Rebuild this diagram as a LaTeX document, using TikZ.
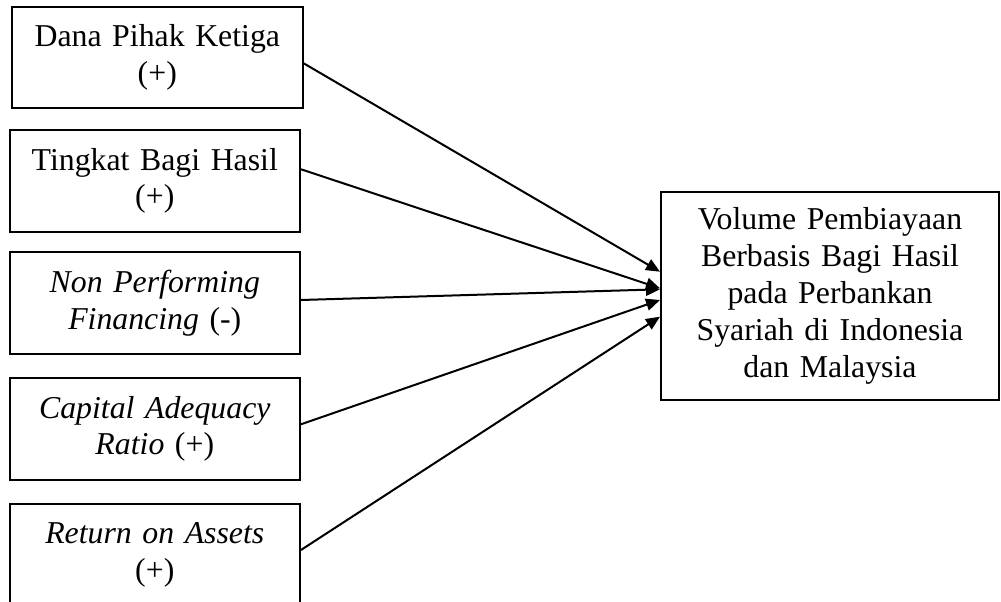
\documentclass[tikz,border=0pt]{standalone}
\usepackage{fontspec}
\setmainfont{Liberation Serif}
\usetikzlibrary{arrows.meta}
\begin{document}
\begin{tikzpicture}[x=1pt,y=-1pt,
  varbox/.style={draw,line width=2pt,inner sep=0pt,align=center,
    font=\fontsize{31.8}{36.8}\selectfont},
  conn/.style={line width=2pt,-{Triangle[length=14pt,width=12pt]}}]
\useasboundingbox (0,0) rectangle (1001,602);
\clip (0,0) rectangle (1001,602);
\node[varbox,minimum width=290.7pt,minimum height=101.3pt,text width=285pt] (b1) at (157.3,57.3) {Dana Pihak Ketiga\\(+)};
\node[varbox,minimum width=290.5pt,minimum height=101.7pt,text width=285pt] (b2) at (154.8,180.9) {Tingkat Bagi Hasil\\(+)};
\node[varbox,minimum width=290.3pt,minimum height=102pt,text width=285pt] (b3) at (154.8,303.3) {\textit{Non Performing}\\\textit{Financing} (-)};
\node[varbox,minimum width=290.3pt,minimum height=102.3pt,text width=285pt] (b4) at (154.8,428.8) {\textit{Capital Adequacy}\\\textit{Ratio} (+)};
\node[varbox,minimum width=290.3pt,minimum height=101.7pt,text width=285pt] (b5) at (154.8,555.2) {\textit{Return on Assets}\\(+)};
\node[varbox,minimum width=338pt,minimum height=208.3pt,text width=330pt] (y) at (830,295.8) {Volume Pembiayaan\\Berbasis Bagi Hasil\\pada Perbankan\\Syariah di Indonesia\\dan Malaysia};
\draw[conn] ([yshift=-6pt]b1.east) -- ([yshift=24.1pt]y.west);
\draw[conn] ([yshift=11.6pt]b2.east) -- ([yshift=7.5pt]y.west);
\draw[conn] ([yshift=3.3pt]b3.east) -- ([yshift=6.5pt]y.west);
\draw[conn] ([yshift=4.5pt]b4.east) -- ([yshift=-4.2pt]y.west);
\draw[conn] ([yshift=5.2pt]b5.east) -- ([yshift=-20.9pt]y.west);
\end{tikzpicture}
\end{document}
